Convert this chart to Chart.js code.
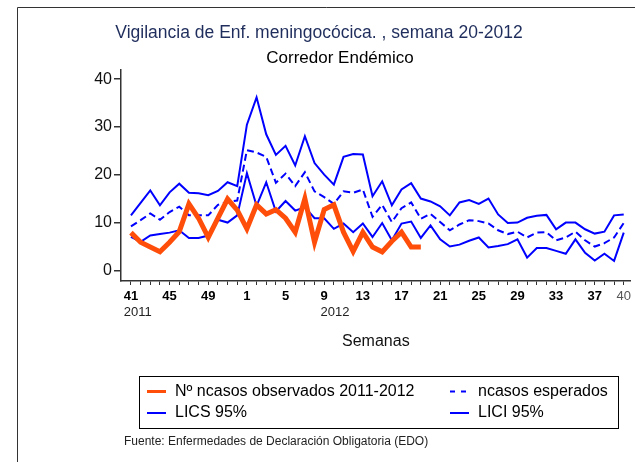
<!DOCTYPE html>
<html>
<head>
<meta charset="utf-8">
<script src="https://cdn.jsdelivr.net/npm/chart.js@4.4.1/dist/chart.umd.min.js"></script>
<style>
  html, body { margin: 0; padding: 0; background: #fff; }
</style>
</head>
<body>
<canvas id="myChart" width="635" height="462"></canvas>
<script>
// weeks 41-52 of 2011, then 1-40 of 2012
var weeks = [41, 42, 43, 44, 45, 46, 47, 48, 49, 50, 51, 52,
  1, 2, 3, 4, 5, 6, 7, 8, 9, 10, 11, 12, 13, 14, 15, 16, 17, 18, 19, 20,
  21, 22, 23, 24, 25, 26, 27, 28, 29, 30, 31, 32, 33, 34, 35, 36, 37, 38, 39, 40];
var tickWeeks = [41, 45, 49, 1, 5, 9, 13, 17, 21, 25, 29, 33, 37, 40];
var yTicks = [0, 10, 20, 30, 40];
var years = ["2011", "2012"];
var yearWeekIdx = [0, 20];

var observed = [8, 6, 5, 4, 6, 8.2, 14, 11, 7, 11, 15, 12.7, 8.8, 13.8, 11.9, 12.8, 11, 8.1, 15.1, 6,
  12.8, 13.8, 8.1, 4.1, 8.1, 5, 4, 6.2, 8.1, 5, 5];
var expected = [9.3, 10.6, 12.0, 10.7, 12.3, 13.4, 11.6, 11.6, 11.6, 13.8, 14.4, 14.7, 25.2, 24.7, 23.8, 18.4,
  20.3, 17.7, 20.6, 16.6, 15.4, 14.0, 16.6, 16.3, 17.0, 11.3, 13.8, 10.2, 13.1, 14.3, 10.9, 11.9, 10.2, 8.5,
  9.7, 10.6, 10.4, 9.9, 8.5, 7.7, 8.2, 7.0, 8.0, 8.1, 6.4, 7.0, 8.2, 6.4, 5.1, 5.8, 7.0, 10.0];
var lics = [11.6, 14.2, 16.8, 13.7, 16.4, 18.2, 16.3, 16.2, 15.8, 16.7, 18.5, 17.7, 30.5, 36.2, 28.5, 24.2,
  26.1, 22.0, 28.1, 22.5, 20.1, 18.0, 23.8, 24.4, 24.3, 15.6, 18.7, 13.7, 17.0, 18.3, 15.1, 14.5, 13.5, 11.6,
  14.3, 14.8, 14.0, 15.1, 11.8, 10.0, 10.1, 11.1, 11.5, 11.7, 8.7, 10.1, 10.1, 8.7, 7.8, 8.2, 11.6, 11.8];
var lici = [7.1, 6.1, 7.4, 7.7, 8.0, 8.5, 6.9, 6.9, 7.4, 10.7, 10.1, 11.6, 20.4, 13.6, 18.5, 12.4,
  14.6, 12.6, 13.3, 11.0, 11.0, 8.8, 9.9, 8.1, 9.9, 7.1, 10.0, 6.4, 9.9, 10.3, 6.9, 9.5, 6.6, 5.1,
  5.5, 6.3, 7.0, 4.9, 5.2, 5.6, 6.6, 2.8, 4.8, 4.8, 4.2, 3.6, 6.6, 3.8, 2.2, 3.6, 2.1, 8.0];

var FONT = '"Liberation Sans", Arial, sans-serif';
var ORANGE = "#ff4e0a";
var BLUE = "#0000ff";

function pts(arr) {
  return arr.map(function (v, i) { return { x: i, y: v }; });
}

// extra texts, legend box and frame
var extras = {
  id: "extras",
  afterDraw: function (chart) {
    var ctx = chart.ctx, xs = chart.scales.x;
    ctx.save();

    // frame
    ctx.strokeStyle = "#333";
    ctx.lineWidth = 1;
    ctx.beginPath();
    ctx.moveTo(17.5, 462);
    ctx.lineTo(17.5, 7.5);
    ctx.lineTo(635, 7.5);
    ctx.stroke();

    // subtitle
    ctx.fillStyle = "#000";
    ctx.font = "17px " + FONT;
    ctx.textAlign = "center";
    ctx.textBaseline = "middle";
    ctx.fillText("Corredor Endémico", 340, 58);

    // year labels under ticks
    ctx.textAlign = "left";
    years.forEach(function (y, k) {
      var idx = yearWeekIdx[k];
      ctx.font = "bold 13px " + FONT;
      var w = ctx.measureText(String(weeks[idx])).width;
      ctx.font = "13px " + FONT;
      ctx.fillStyle = "#222";
      ctx.fillText(y, xs.getPixelForValue(idx) - w / 2, 312);
    });

    // legend
    ctx.strokeStyle = "#000";
    ctx.lineWidth = 1;
    ctx.strokeRect(139.5, 376.5, 479, 52);
    var colX = [147, 450], rowY = [391.5, 413];
    chart.data.datasets.forEach(function (ds, i) {
      var cx = colX[i % 2], cy = rowY[Math.floor(i / 2)];
      ctx.strokeStyle = ds.borderColor;
      ctx.lineWidth = i === 0 ? 3 : 2;
      ctx.setLineDash(ds.borderDash ? [5, 6] : []);
      ctx.beginPath();
      ctx.moveTo(cx, cy);
      ctx.lineTo(cx + 19, cy);
      ctx.stroke();
      ctx.setLineDash([]);
      ctx.fillStyle = "#000";
      ctx.font = "16px " + FONT;
      ctx.fillText(ds.label, cx + 28, cy);
    });

    // source
    ctx.font = "12px " + FONT;
    ctx.fillStyle = "#222";
    ctx.fillText("Fuente: Enfermedades de Declaración Obligatoria (EDO)", 124, 442);

    ctx.restore();
  }
};

Chart.defaults.font.family = FONT;

var ctx = document.getElementById("myChart").getContext("2d");
var chart = new Chart(ctx, {
  type: "line",
  data: {
    datasets: [
      {
        label: "Nº ncasos observados 2011-2012",
        data: pts(observed),
        borderColor: ORANGE,
        borderWidth: 5,
        pointRadius: 0
      },
      {
        label: "ncasos esperados",
        data: pts(expected),
        borderColor: BLUE,
        borderWidth: 2,
        borderDash: [7, 4],
        pointRadius: 0
      },
      {
        label: "LICS 95%",
        data: pts(lics),
        borderColor: BLUE,
        borderWidth: 2,
        pointRadius: 0
      },
      {
        label: "LICI 95%",
        data: pts(lici),
        borderColor: BLUE,
        borderWidth: 2,
        pointRadius: 0
      }
    ]
  },
  options: {
    responsive: false,
    animation: false,
    devicePixelRatio: 1,
    layout: { padding: { left: 5, right: 2, top: 0, bottom: 100 } },
    plugins: {
      legend: { display: false },
      tooltip: { enabled: false },
      title: {
        display: true,
        text: "Vigilancia de Enf. meningocócica. , semana 20-2012",
        color: "#1f2d5c",
        font: { size: 17.5, weight: "normal" },
        padding: { top: 23, bottom: 26 }
      }
    },
    scales: {
      x: {
        type: "linear",
        min: -1.03,
        max: 51.72,
        afterBuildTicks: function (s) {
          s.ticks = weeks.map(function (w, i) { return { value: i }; });
        },
        afterFit: function (s) { s.height = 81; },
        border: { color: "#333", width: 1.5 },
        grid: { drawOnChartArea: false, tickLength: 4, color: "#333", lineWidth: 1 },
        ticks: {
          autoSkip: false,
          maxRotation: 0,
          padding: 4,
          callback: function (v) {
            return tickWeeks.indexOf(weeks[v]) >= 0 ? String(weeks[v]) : "";
          },
          color: function (c) { return c.index === weeks.length - 1 ? "#555" : "#000"; },
          font: function (c) {
            return { size: 13, weight: c.index === weeks.length - 1 ? "normal" : "bold" };
          }
        },
        title: {
          display: true,
          text: "Semanas",
          color: "#111",
          font: { size: 16 },
          padding: { top: 0, bottom: 11 }
        }
      },
      y: {
        min: -2.08,
        max: 41.9,
        afterBuildTicks: function (s) {
          s.ticks = yTicks.map(function (v) { return { value: v }; });
        },
        afterFit: function (s) { s.width = 116; },
        border: { color: "#333", width: 1.5 },
        grid: { drawOnChartArea: false, tickLength: 7, color: "#333", lineWidth: 1.5 },
        ticks: { color: "#111", font: { size: 16 }, padding: 2 }
      }
    }
  },
  plugins: [extras]
});
</script>
</body>
</html>
